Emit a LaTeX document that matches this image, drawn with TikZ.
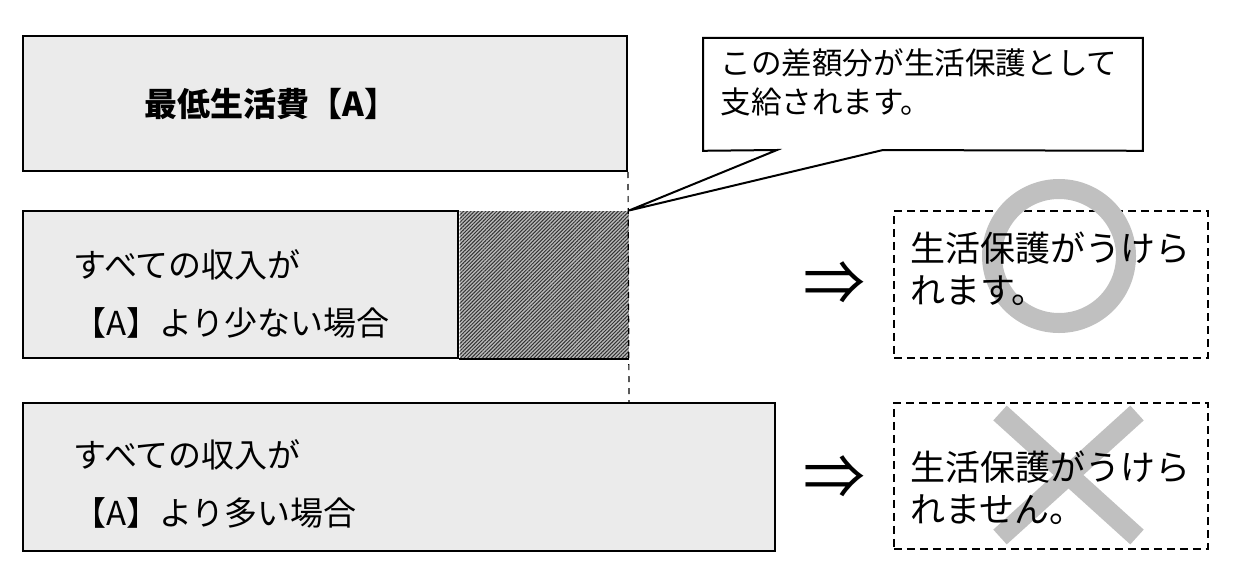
\documentclass[tikz,border=0pt]{standalone}
\usepackage{fontspec}
\newfontfamily\jp{Noto Sans CJK JP}
\usetikzlibrary{positioning,patterns.meta}
\definecolor{boxgray}{RGB}{235,235,235}
\definecolor{markgray}{RGB}{192,192,192}

\begin{document}
\begin{tikzpicture}[x=0.5pt,y=-0.5pt,
  box/.style={draw,line width=1pt,fill=boxgray,inner sep=0pt,anchor=north west},
  resultbox/.style={draw,line width=0.8pt,dash pattern=on 4pt off 2.5pt,inner sep=0pt,
    anchor=north west,minimum width=157pt},
  boxtext/.style={font=\jp\fontsize{16.5pt}{29pt}\selectfont,align=left,anchor=west,inner sep=0pt},
  resulttext/.style={font=\jp\fontsize{17.5pt}{21pt}\selectfont,align=left,anchor=west,inner sep=0pt},
  implies/.style={font=\jp\fontsize{31pt}{31pt}\selectfont,inner sep=0pt},
  okngmark/.style={markgray,line width=10pt}]
  \useasboundingbox (0,0) rectangle (1240,583);
  \node[box,minimum width=302pt,minimum height=67.5pt] (minbox) at (22,35) {};
  \node[font=\jp\bfseries\fontsize{16.5pt}{18pt}\selectfont,inner sep=0pt] (mintitle) at (271,104) {最低生活費【A】};
  \node[box,minimum width=217.5pt,minimum height=73.5pt] (lowbox) at (22,210) {};
  \node[inner sep=0pt,minimum width=84.5pt,minimum height=73.5pt,right=0pt of lowbox,
    preaction={fill=gray!55},pattern={Lines[angle=45,distance=1.3pt,line width=0.5pt]},
    pattern color=black!80] (hatch) {};
  \draw[line width=1pt] (hatch.south west) -- (hatch.south east);
  \node[box,minimum width=376pt,minimum height=74pt] (highbox) at (22,402) {};
  \draw[line width=0.6pt,dash pattern=on 3pt off 3pt] (minbox.south east) -- (hatch.south east |- highbox.north);
  \node[boxtext] (lowtext) at (73,294) {すべての収入が\\【A】より少ない場合};
  \node[boxtext] (hightext) at (73,484) {すべての収入が\\【A】より多い場合};
  \node[inner sep=0pt,minimum width=219.5pt,minimum height=56pt,anchor=north west] (note) at (703,38) {};
  \draw[line width=1pt] (note.north west) -- (note.north east) -- (note.south east) -- (883,150)
    -- (hatch.north east) -- (777,150) -- (note.south west) -- cycle;
  \node[font=\jp\fontsize{15.3pt}{19.5pt}\selectfont,align=left,anchor=west,inner sep=0pt] (notetext) at (720,82.5)
    {この差額分が生活保護として\\支給されます。};
  \node[implies] (arrowok) at (834,284) {⇒};
  \node[implies] (arrowng) at (834,478) {⇒};
  \node[resultbox,minimum height=73.5pt] (okbox) at (893,210) {};
  \node[resultbox,minimum height=73pt] (ngbox) at (893,402) {};
  \draw[okngmark] (1059,256) circle[radius=33.5pt];
  \draw[okngmark] (1000,413) -- (1137,537);
  \draw[okngmark] (1137,413) -- (1000,537);
  \node[resulttext] (oktext) at (910,268.5) {生活保護がうけら\\れます。};
  \node[resulttext] (ngtext) at (910,488) {生活保護がうけら\\れません。};
\end{tikzpicture}
\end{document}
